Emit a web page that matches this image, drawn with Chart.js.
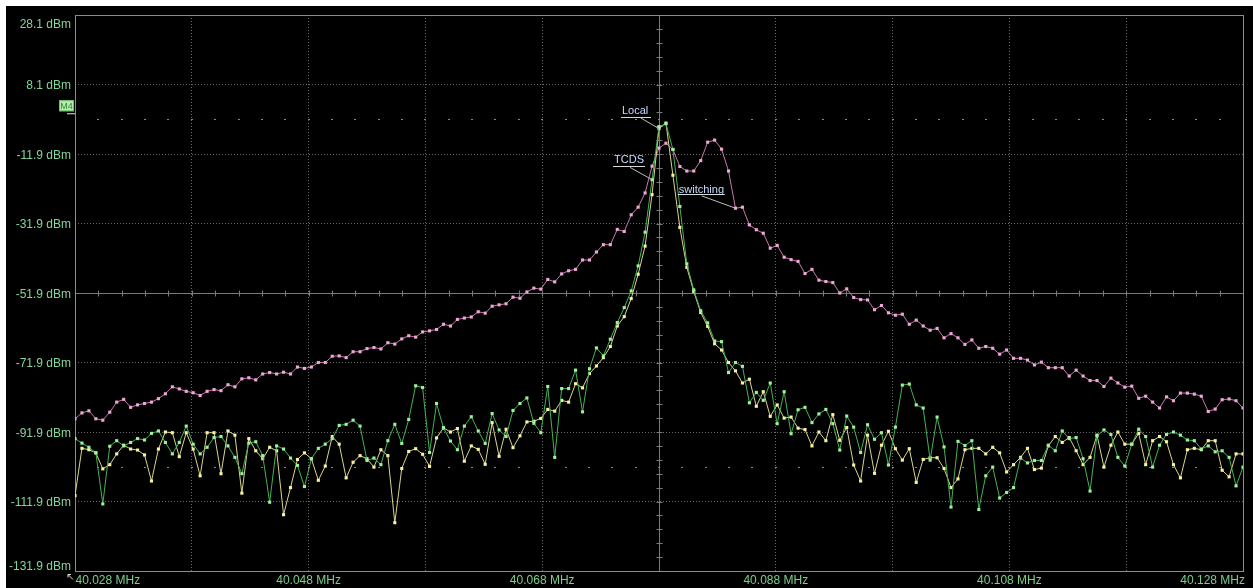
<!DOCTYPE html>
<html>
<head>
<meta charset="utf-8">
<script src="https://cdn.jsdelivr.net/npm/chart.js@4"></script>
<style>
  body { margin: 0; background: #fff; }
  #wrap { position: absolute; left: 6px; top: 6px; width: 1247px; height: 582px; background: #000; }
</style>
</head>
<body>
<div id="wrap"><canvas id="spec" width="1247" height="582"></canvas></div>
<script>
/* ================= SWEEP ================= */
const startMHz = 40.028;
const stopMHz = 40.128;

/* ================= TRACES (dBm) ================= */
const switchingDbm = [
-88.1,-86.4,-85.8,-88.1,-88.5,-86.2,-83.3,-82.5,-84.8,-84.1,
-83.7,-83.3,-82.3,-80.9,-78.9,-79.5,-80.2,-80.6,-81.4,-80.2,
-79.7,-80.0,-78.3,-78.9,-76.6,-76.3,-76.9,-75.2,-74.8,-75.2,
-74.7,-75.2,-73.2,-73.6,-73.2,-71.9,-71.9,-70.1,-70.0,-70.5,
-68.8,-68.8,-67.9,-67.6,-68.0,-66.2,-66.6,-65.1,-64.2,-64.6,
-63.1,-62.8,-62.4,-60.9,-61.4,-59.5,-59.1,-58.8,-57.3,-57.7,
-55.7,-55.3,-55.0,-53.1,-53.4,-51.6,-50.5,-50.8,-48.0,-48.7,
-46.4,-45.5,-45.1,-42.4,-42.4,-40.1,-38.0,-38.0,-33.6,-34.2,
-29.4,-27.2,-23.1,-15.4,-10.2,-8.8,-10.6,-15.5,-16.8,-16.8,
-13.8,-8.5,-7.9,-10.5,-16.8,-27.5,-27.2,-32.3,-33.7,-34.7,
-39.0,-38.2,-41.6,-42.3,-42.8,-46.3,-45.1,-48.2,-48.6,-48.9,
-51.9,-50.7,-53.2,-53.8,-53.9,-56.7,-55.5,-57.6,-58.3,-58.0,
-60.9,-59.7,-61.4,-62.6,-62.1,-64.8,-63.6,-64.8,-66.7,-65.4,
-67.8,-67.3,-67.8,-69.5,-68.3,-70.7,-70.7,-71.2,-72.6,-71.8,
-73.4,-73.4,-73.4,-75.8,-74.1,-75.8,-77.1,-77.1,-78.8,-76.4,
-77.8,-79.0,-78.7,-82.2,-81.6,-83.3,-85.0,-81.8,-82.9,-80.7,
-80.7,-81.0,-81.6,-86.0,-85.3,-82.6,-82.4,-82.9,-85.0
];

const tcdsDbm = [
-93.8,-95.1,-96.3,-97.9,-112.6,-96.0,-94.4,-95.9,-94.9,-93.8,
-94.2,-92.3,-91.6,-94.9,-98.2,-94.9,-90.2,-95.4,-98.2,-96.3,
-93.5,-93.2,-95.9,-99.2,-103.9,-95.1,-94.7,-98.7,-112.1,-95.9,
-96.8,-99.4,-101.5,-107.6,-99.6,-96.6,-95.4,-93.8,-90.0,-89.7,
-88.5,-90.2,-100.1,-99.4,-101.3,-94.4,-89.7,-95.2,-88.3,-78.6,
-79.1,-97.8,-83.7,-90.7,-94.5,-97.0,-90.2,-87.5,-91.6,-95.2,
-86.6,-91.3,-93.2,-85.7,-83.7,-82.1,-89.4,-92.1,-78.8,-99.2,
-79.4,-79.4,-74.1,-86.1,-73.7,-67.7,-70.0,-65.2,-60.4,-56.1,
-51.3,-44.1,-34.4,-19.3,-4.0,-3.2,-10.6,-27.0,-43.5,-51.0,
-57.0,-60.5,-65.7,-65.9,-74.8,-71.9,-73.0,-83.5,-80.5,-82.8,
-77.8,-89.5,-80.3,-92.4,-85.5,-84.8,-89.2,-86.7,-85.4,-89.5,
-97.1,-87.3,-90.5,-97.8,-89.8,-94.0,-92.1,-101.4,-90.5,-78.4,
-78.1,-84.1,-85.0,-100.0,-87.6,-96.2,-113.5,-94.6,-95.8,-94.4,
-114.2,-104.5,-102.0,-110.9,-109.3,-107.9,-99.4,-100.8,-100.1,-100.1,
-95.7,-97.3,-91.6,-93.8,-93.5,-99.6,-108.9,-93.0,-91.3,-92.6,
-99.2,-101.7,-95.4,-91.1,-93.2,-102.0,-95.7,-92.6,-91.9,-92.8,
-94.2,-94.4,-96.8,-95.9,-97.6,-97.3,-99.2,-107.4,-102.0
];

const localDbm = [
-110.2,-96.6,-97.0,-97.9,-102.5,-101.3,-98.2,-95.7,-96.8,-97.1,
-98.5,-106.0,-96.8,-91.9,-92.1,-99.0,-92.1,-96.8,-104.5,-92.1,
-92.1,-103.9,-91.6,-92.8,-109.5,-93.8,-97.3,-99.6,-96.3,-97.3,
-115.7,-107.9,-99.8,-97.9,-99.6,-105.8,-101.7,-93.2,-95.4,-105.1,
-100.6,-98.7,-99.6,-102.0,-97.0,-98.7,-118.0,-102.4,-97.5,-96.7,
-98.3,-101.8,-93.6,-90.7,-91.9,-90.9,-100.3,-95.9,-96.9,-101.2,
-89.2,-98.9,-91.1,-96.4,-93.0,-89.0,-88.8,-88.0,-85.4,-85.9,
-82.8,-83.3,-78.0,-79.2,-75.1,-72.9,-70.5,-67.3,-61.4,-58.7,
-53.5,-46.5,-38.4,-23.6,-4.6,-3.0,-18.0,-33.0,-44.5,-51.5,
-57.5,-61.5,-66.5,-68.3,-71.9,-74.3,-77.8,-76.7,-84.5,-80.3,
-87.4,-84.1,-87.9,-87.6,-90.8,-91.2,-95.9,-91.9,-94.4,-86.9,
-94.3,-90.6,-101.4,-106.0,-92.8,-103.8,-95.7,-91.7,-96.7,-100.0,
-96.7,-106.4,-99.8,-99.3,-99.3,-102.4,-107.9,-105.4,-97.0,-96.6,
-96.6,-98.2,-96.3,-97.9,-103.4,-101.3,-99.2,-96.6,-102.7,-102.3,
-95.9,-93.2,-94.9,-93.5,-97.3,-101.3,-99.2,-92.8,-102.0,-95.7,
-91.9,-95.4,-95.4,-92.3,-101.3,-94.4,-93.2,-94.7,-101.3,-105.1,
-97.0,-96.6,-97.0,-94.4,-94.4,-102.9,-104.8,-98.2,-98.2
];

/* ================= AXES ================= */
const yTicks = [28.1, 8.1, -11.9, -31.9, -51.9, -71.9, -91.9, -111.9, -131.9];
const yLabels = ["28.1 dBm","8.1 dBm","-11.9 dBm","-31.9 dBm","-51.9 dBm","-71.9 dBm","-91.9 dBm","-111.9 dBm","-131.9 dBm"];
const xGrid = [40.028, 40.038, 40.048, 40.058, 40.068, 40.078, 40.088, 40.098, 40.108, 40.118, 40.128];
const xLabelVals = [40.028, 40.048, 40.068, 40.088, 40.108, 40.128];
const xLabels = ["40.028 MHz","40.048 MHz","40.068 MHz","40.088 MHz","40.108 MHz","40.128 MHz"];
const centerMHz = 40.078;
const centerDbm = -51.9;
const dotLevels = [-1.9, -101.9];   // M4 level and lower display line
const markerLevel = -1.9;

// sweep points
const nPts = switchingDbm.length;
const freqs = switchingDbm.map((_, i) => startMHz + i * (stopMHz - startMHz) / (nPts - 1));
const toXY = arr => arr.map((v, i) => ({ x: freqs[i], y: v }));

const FONT = "'Liberation Sans', Arial, sans-serif";

/* ================= DECORATION ================= */
const decor = {
  id: "decor",
  beforeDatasetsDraw(chart) {
    const { ctx, chartArea: a, scales: { x, y } } = chart;
    ctx.save();
    // center cross (solid) with minor ticks
    ctx.strokeStyle = "#7a7a7a";
    ctx.lineWidth = 1;
    const cx = Math.round(x.getPixelForValue(centerMHz)) + 0.5;
    const cy = Math.round(y.getPixelForValue(centerDbm)) + 0.5;
    ctx.beginPath();
    ctx.moveTo(cx, a.top); ctx.lineTo(cx, a.bottom);
    ctx.moveTo(a.left, cy); ctx.lineTo(a.right, cy);
    for (let k = 1; k < 50; k++) {
      const fx = Math.round(x.getPixelForValue(startMHz + k * 0.002)) + 0.5;
      ctx.moveTo(fx, cy - 3); ctx.lineTo(fx, cy + 3);
    }
    for (let k = 1; k < 40; k++) {
      const fy = Math.round(y.getPixelForValue(-131.9 + k * 4)) + 0.5;
      ctx.moveTo(cx - 3, fy); ctx.lineTo(cx + 3, fy);
    }
    ctx.stroke();

    // sparse dotted display lines
    ctx.fillStyle = "#8a8a8a";
    dotLevels.forEach(lv => {
      const ly = Math.round(y.getPixelForValue(lv));
      for (let k = 1; k < 50; k++) {
        const fx = Math.round(x.getPixelForValue(startMHz + k * 0.002));
        ctx.fillRect(fx - 1, ly, 2, 1);
      }
    });

    // frame
    ctx.strokeStyle = "#8c8c8c";
    ctx.strokeRect(Math.round(a.left) + 0.5, Math.round(a.top) + 0.5,
                   Math.round(a.right - a.left), Math.round(a.bottom - a.top));
    ctx.restore();
  },

  afterDraw(chart) {
    const { ctx, chartArea: a, scales: { x, y } } = chart;
    ctx.save();

    // Y labels
    ctx.font = "12px " + FONT;
    ctx.fillStyle = "#84d49a";
    ctx.textAlign = "right";
    ctx.textBaseline = "middle";
    yTicks.forEach((v, i) => {
      let py = y.getPixelForValue(v) + 1.5;
      py = Math.max(a.top + 9.5, Math.min(a.bottom - 4.5, py));
      ctx.fillText(yLabels[i], a.left - 4, py);
    });

    // X labels
    ctx.fillStyle = "#7ccf88";
    xLabelVals.forEach((v, i) => {
      const px = x.getPixelForValue(v);
      if (i === 0) { ctx.textAlign = "left"; ctx.fillText(xLabels[i], px + 0.5, a.bottom + 9.5); }
      else if (i === xLabelVals.length - 1) { ctx.textAlign = "right"; ctx.fillText(xLabels[i], px + 2, a.bottom + 9.5); }
      else { ctx.textAlign = "center"; ctx.fillText(xLabels[i], px, a.bottom + 9.5); }
    });

    // little arrow at start of x axis
    ctx.strokeStyle = "#e0e0e0";
    ctx.beginPath();
    ctx.moveTo(a.left - 2, a.bottom + 8.5); ctx.lineTo(a.left - 7, a.bottom + 3.5);
    ctx.moveTo(a.left - 7, a.bottom + 3.5); ctx.lineTo(a.left - 7, a.bottom + 6.5);
    ctx.moveTo(a.left - 7, a.bottom + 3.5); ctx.lineTo(a.left - 4, a.bottom + 3.5);
    ctx.stroke();

    // M4 flag
    const my = y.getPixelForValue(markerLevel);
    ctx.fillStyle = "#b6eeb0";
    ctx.fillRect(a.left - 16, my - 19, 15, 11);
    ctx.strokeStyle = "#6fbf6a";
    ctx.strokeRect(a.left - 15.5, my - 18.5, 14, 10);
    ctx.fillStyle = "#2f7d35";
    ctx.font = "9px " + FONT;
    ctx.textAlign = "center";
    ctx.fillText("M4", a.left - 8.5, my - 13);
    ctx.strokeStyle = "#d8f5d0";
    ctx.beginPath();
    ctx.moveTo(a.left - 8, my - 5.5); ctx.lineTo(a.left, my - 5.5);
    ctx.stroke();

    // trace annotations
    const notes = [
      { text: "Local", data: localDbm, idx: 84, tx: -37, ty: -17.7, u0: -38, u1: -8, uy: -11.5, lx: -18.3, ly: -10.7 },
      { text: "TCDS", data: tcdsDbm, idx: 83, tx: -38, ty: -19.3, u0: -39, u1: -7, uy: -13.3, lx: -22, ly: -12.3 },
      { text: "switching", data: switchingDbm, idx: 95, tx: -56.7, ty: -18.3, u0: -57.7, u1: -10.7, uy: -13.8, lx: -33.7, ly: -12.3 }
    ];
    ctx.font = "11px " + FONT;
    ctx.textAlign = "left";
    notes.forEach(n => {
      const ax = x.getPixelForValue(freqs[n.idx]);
      const ay = y.getPixelForValue(n.data[n.idx]);
      ctx.fillStyle = "#c6dcff";
      ctx.fillText(n.text, ax + n.tx, ay + n.ty);
      ctx.strokeStyle = "#d8d8d8";
      ctx.beginPath();
      ctx.moveTo(ax + n.u0, Math.round(ay + n.uy) + 0.5);
      ctx.lineTo(ax + n.u1, Math.round(ay + n.uy) + 0.5);
      ctx.stroke();
      ctx.strokeStyle = "#bdbdbd";
      ctx.beginPath();
      ctx.moveTo(ax + n.lx, ay + n.ly);
      ctx.lineTo(ax, ay);
      ctx.stroke();
    });
    ctx.restore();
  }
};

/* ================= CHART ================= */
const trace = (label, arr, line, dot, order) => ({
  label: label,
  data: toXY(arr),
  borderColor: line,
  borderWidth: 1,
  pointStyle: "rect",
  pointRadius: 2.2,
  pointBorderWidth: 0,
  pointBackgroundColor: dot,
  tension: 0,
  order: order
});

new Chart(document.getElementById("spec").getContext("2d"), {
  type: "line",
  data: {
    datasets: [
      trace("switching", switchingDbm, "#c47aab", "#f0a6d8", 2),
      trace("Local", localDbm, "#d9d68f", "#f6f2a2", 1),
      trace("TCDS", tcdsDbm, "#45b256", "#9cf29a", 0)
    ]
  },
  options: {
    responsive: false,
    animation: false,
    devicePixelRatio: 1,
    layout: { padding: { left: 69, right: 10, top: 9, bottom: 17 } },
    plugins: { legend: { display: false }, tooltip: { enabled: false } },
    scales: {
      x: {
        type: "linear",
        min: startMHz,
        max: stopMHz,
        afterBuildTicks: s => { s.ticks = xGrid.map(v => ({ value: v })); },
        ticks: { display: false },
        grid: { color: "#6a6a6a", lineWidth: 1, drawTicks: false },
        border: { display: false, dash: [1, 2] }
      },
      y: {
        min: -131.9,
        max: 28.1,
        afterBuildTicks: s => { s.ticks = yTicks.map(v => ({ value: v })); },
        ticks: { display: false },
        grid: { color: "#6a6a6a", lineWidth: 1, drawTicks: false },
        border: { display: false, dash: [1, 2] }
      }
    }
  },
  plugins: [decor]
});
</script>
</body>
</html>
